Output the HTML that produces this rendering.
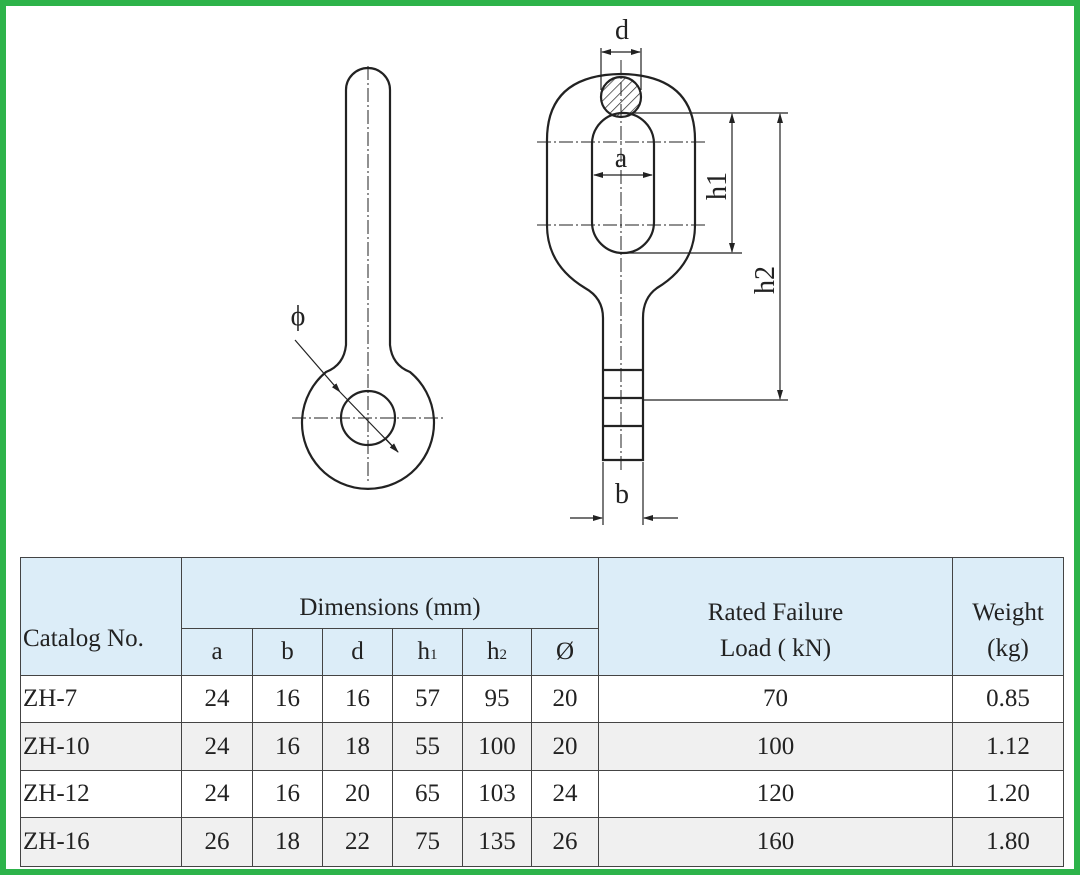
<!DOCTYPE html>
<html><head><meta charset="utf-8"><style>
body{margin:0;width:1080px;height:875px;background:#fff;overflow:hidden;position:relative;font-family:"Liberation Serif",serif}
.frame{position:absolute;left:0;top:0;width:1068px;height:863px;border:6px solid #2db34a}
svg{position:absolute;left:0;top:0}
table{position:absolute;left:20px;top:557px;border-collapse:collapse;font-size:25px;color:#222;table-layout:fixed}
td{border:1.5px solid #444;text-align:center;padding:0}
.h{background:#dcedf8}
.g{background:#f0f0f0}
td.l{text-align:left;padding-left:2px}
</style></head><body>
<div class="frame"></div>
<svg width="1080" height="875" viewBox="0 0 1080 875" fill="none" stroke="#222" stroke-width="2.2">
<defs>
<marker id="ar" markerWidth="10" markerHeight="8" refX="9" refY="4" orient="auto" markerUnits="userSpaceOnUse"><path d="M0,1 L10,4 L0,7z" fill="#222" stroke="none"/></marker>
<pattern id="hat" width="7" height="7" patternUnits="userSpaceOnUse" patternTransform="rotate(45)"><line x1="0" y1="0" x2="0" y2="7" stroke="#333" stroke-width="1.5"/></pattern>
</defs>
<path d="M346,90 A22,22 0 0 1 390,90 L390,345 Q392,365 410,372 A66,66 0 1 1 326,372 Q344,365 346,345 Z"/>
<circle cx="368" cy="418" r="27"/>
<g stroke-width="1" stroke-dasharray="14,3,2,3">
<line x1="368" y1="66" x2="368" y2="482"/>
<line x1="292" y1="418" x2="446" y2="418"/>
</g>
<line x1="295" y1="340" x2="340" y2="392" stroke-width="1.2" marker-end="url(#ar)"/>
<line x1="340" y1="392" x2="398" y2="452" stroke-width="1.2"/>
<line x1="385" y1="438" x2="398" y2="452" stroke-width="1.2" marker-end="url(#ar)"/>
<text x="298" y="325" font-family="Liberation Serif" font-size="28" fill="#222" stroke="none" text-anchor="middle">ϕ</text>
<path d="M603,460 L603,318 Q603,298 585,288 Q547,265 547,225 L547,140 Q547,75 621,74 Q695,75 695,140 L695,225 Q695,265 657,288 Q643,298 643,318 L643,460 Z"/>
<line x1="603" y1="370" x2="643" y2="370"/><line x1="603" y1="398" x2="643" y2="398"/><line x1="603" y1="426" x2="643" y2="426"/>
<rect x="592" y="113" width="62" height="140" rx="31"/>
<circle cx="621" cy="97" r="20" fill="url(#hat)"/>
<g stroke-width="1" stroke-dasharray="14,3,2,3">
<line x1="621" y1="60" x2="621" y2="470"/>
<line x1="537" y1="142" x2="707" y2="142"/>
<line x1="537" y1="225" x2="707" y2="225"/>
</g>
<g stroke-width="1.2">
<line x1="601" y1="48" x2="601" y2="90"/><line x1="641" y1="48" x2="641" y2="90"/>
<line x1="621" y1="52" x2="602" y2="52" marker-end="url(#ar)"/><line x1="621" y1="52" x2="640" y2="52" marker-end="url(#ar)"/>
<line x1="621" y1="175" x2="594" y2="175" marker-end="url(#ar)"/><line x1="621" y1="175" x2="652" y2="175" marker-end="url(#ar)"/>
<line x1="621" y1="113" x2="788" y2="113"/><line x1="621" y1="253" x2="742" y2="253"/><line x1="643" y1="400" x2="788" y2="400"/>
<line x1="732" y1="180" x2="732" y2="114" marker-end="url(#ar)"/><line x1="732" y1="180" x2="732" y2="252" marker-end="url(#ar)"/>
<line x1="780" y1="250" x2="780" y2="114" marker-end="url(#ar)"/><line x1="780" y1="250" x2="780" y2="399" marker-end="url(#ar)"/>
<line x1="603" y1="462" x2="603" y2="525"/><line x1="643" y1="462" x2="643" y2="525"/>
<line x1="570" y1="518" x2="602" y2="518" marker-end="url(#ar)"/><line x1="678" y1="518" x2="644" y2="518" marker-end="url(#ar)"/>
</g>
<g font-family="Liberation Serif" font-size="28" fill="#222" stroke="none" text-anchor="middle">
<text x="622" y="39">d</text>
<text x="621" y="167">a</text>
<text x="622" y="503">b</text>
<text transform="translate(726,186) rotate(-90)">h1</text>
<text transform="translate(774,280) rotate(-90)">h2</text>
</g>
</svg>
<table>
<colgroup><col style="width:161px"><col style="width:71px"><col style="width:70px"><col style="width:70px"><col style="width:70px"><col style="width:69px"><col style="width:67px"><col style="width:354px"><col style="width:111px"></colgroup>
<tr style="height:71px"><td class="h l" rowspan="2" style="padding-top:44px">Catalog No.</td><td class="h" colspan="6" style="vertical-align:bottom;padding-bottom:6px">Dimensions (mm)</td><td class="h" rowspan="2" style="line-height:36px;padding-top:28px">Rated Failure<br>Load ( kN)</td><td class="h" rowspan="2" style="line-height:36px;padding-top:28px">Weight<br>(kg)</td></tr>
<tr style="height:47px"><td class="h">a</td><td class="h">b</td><td class="h">d</td><td class="h">h<small style="font-size:15px">1</small></td><td class="h">h<small style="font-size:15px">2</small></td><td class="h">Ø</td></tr>
<tr style="height:47px"><td class="l">ZH-7</td><td>24</td><td>16</td><td>16</td><td>57</td><td>95</td><td>20</td><td>70</td><td>0.85</td></tr>
<tr style="height:48px" class="g"><td class="l">ZH-10</td><td>24</td><td>16</td><td>18</td><td>55</td><td>100</td><td>20</td><td>100</td><td>1.12</td></tr>
<tr style="height:47px"><td class="l">ZH-12</td><td>24</td><td>16</td><td>20</td><td>65</td><td>103</td><td>24</td><td>120</td><td>1.20</td></tr>
<tr style="height:49px" class="g"><td class="l">ZH-16</td><td>26</td><td>18</td><td>22</td><td>75</td><td>135</td><td>26</td><td>160</td><td>1.80</td></tr>
</table>
</body></html>
